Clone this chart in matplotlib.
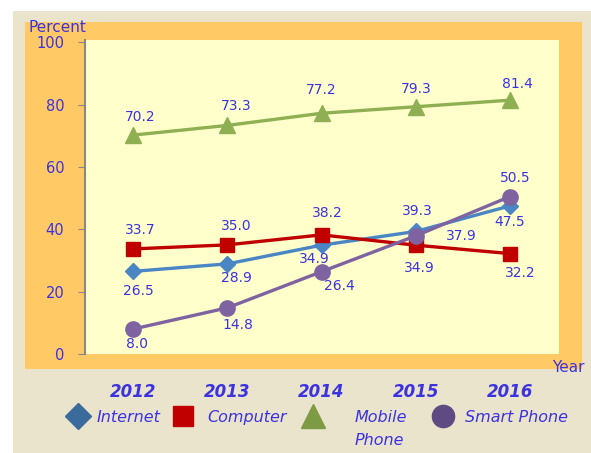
import numpy as np
import matplotlib.pyplot as plt
from matplotlib.patches import Rectangle
from matplotlib.lines import Line2D
import matplotlib.transforms as mtransforms

years = ['2012', '2013', '2014', '2015', '2016']
internet = [26.5, 28.9, 34.9, 39.3, 47.5]
computer = [33.7, 35.0, 38.2, 34.9, 32.2]
mobile = [70.2, 73.3, 77.2, 79.3, 81.4]
smart = [8.0, 14.8, 26.4, 37.9, 50.5]

# label offsets in pixels (dx, dy), dy positive = up
off_internet = [(5, -20), (9, -14), (-7, -14), (2, 20), (0, -16)]
off_computer = [(7, 19), (9, 19), (6, 22), (4, -23), (10, -19)]
off_mobile = [(7, 18), (9, 19), (0, 23), (0, 18), (7, 16)]
off_smart = [(4, -15), (11, -17), (18, -14), (46, 0), (5, 19)]

txt_col = '#3b32e0'
W, H = 591, 453
fig = plt.figure(figsize=(W / 100, H / 100), dpi=100)
fig.patch.set_facecolor('white')

fig.patches.append(Rectangle((13 / W, 0), 578 / W, 442 / H, transform=fig.transFigure,
                             facecolor='#ebe4cc', edgecolor='none', zorder=-3))
fig.patches.append(Rectangle((25 / W, 1 - 369 / H), 557 / W, 347 / H, transform=fig.transFigure,
                             facecolor='#ffc965', edgecolor='none', zorder=-2))

ax = fig.add_axes([85 / W, 1 - 354 / H, 474 / W, 314 / H])
ax.set_facecolor('#ffffcc')
x = np.arange(len(years))

series = [
    (internet, '#4a86c4', 'D', 8, off_internet, 'Internet'),
    (computer, '#c00000', 's', 10, off_computer, 'Computer'),
    (mobile, '#8fb052', '^', 12, off_mobile, 'Mobile\nPhone'),
    (smart, '#7f63a1', 'o', 11, off_smart, 'Smart Phone'),
]
px = 72 / 100
for vals, col, mk, ms, offs, name in series:
    ax.plot(x, vals, color=col, lw=2.4, marker=mk, markersize=ms, zorder=3)
    for xi, v, (dx, dy) in zip(x, vals, offs):
        ax.annotate(f'{v:.1f}', (xi, v), xytext=(dx * px, dy * px), textcoords='offset points',
                    ha='center', va='center', color=txt_col, fontsize=10, zorder=4)

ax.set_xlim(-0.51, 4.52)
ax.set_ylim(0, 100.7)
ax.set_yticks([0, 20, 40, 60, 80, 100])
ax.set_xticks(x)
ax.set_xticklabels(years, fontsize=12, fontweight='bold', fontstyle='italic', color=txt_col)
shift = mtransforms.ScaledTranslation(6 / 100, 0, fig.dpi_scale_trans)
for lbl in ax.get_xticklabels():
    lbl.set_transform(lbl.get_transform() + shift)
ax.tick_params(axis='x', length=0, pad=21)
ax.tick_params(axis='y', colors='#888888', labelcolor=txt_col, labelsize=10.5, length=5, pad=10)
for s in ['top', 'right', 'bottom']:
    ax.spines[s].set_visible(False)
ax.spines['left'].set_color('#888888')
ax.spines['left'].set_linewidth(1.5)

fig.text(28 / W, 1 - 27 / H, 'Percent', color=txt_col, fontsize=11, va='center', ha='left')
fig.text(585 / W, 1 - 367 / H, 'Year', color=txt_col, fontsize=11, va='center', ha='right')

# legend drawn by hand: marker centre x, text left x (pixels)
leg_cols = ['#3b6a9c', '#c00000', '#7d9a45', '#5f4a82']
leg_pos = [(78, 97), (183, 207), (313, 355), (443, 465)]
leg_y = 1 - 416 / H
for (vals, col, mk, ms, offs, name), lc, (mx, tx) in zip(series, leg_cols, leg_pos):
    fig.add_artist(Line2D([mx / W], [leg_y], ls='none', marker=mk, markersize=ms + 5,
                          color=lc, transform=fig.transFigure))
    fig.text(tx / W, leg_y + 6 / H, name, color=txt_col, fontsize=11.5, fontstyle='italic',
             ha='left', va='top', linespacing=1.7)

fig.savefig('out.png', dpi=100)
